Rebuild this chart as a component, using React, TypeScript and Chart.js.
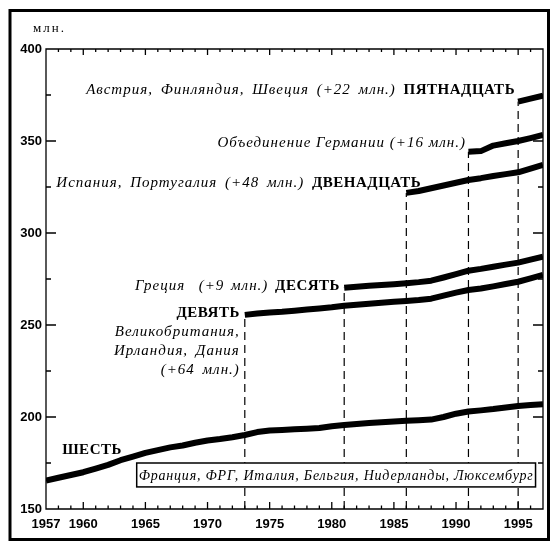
import React, { useEffect, useRef } from "react";
import { Chart, registerables } from "chart.js";

Chart.register(...registerables);

// ---- Data (millions of inhabitants) ----
const sixStart = 1957;
const sixValues = [165.5, 167, 168.5, 170, 172, 174, 176.5, 178.5, 180.5, 182, 183.5, 184.5, 186, 187.2, 188, 189, 190.2, 191.8, 192.7, 193, 193.3, 193.6, 194, 195, 195.6, 196.2, 196.7, 197.2, 197.6, 198, 198.3, 198.6, 200, 201.8, 203, 203.6, 204.3, 205.2, 206, 206.5, 207];
const nineStart = 1973;
const nineValues = [255.5, 256.2, 256.8, 257.2, 257.8, 258.4, 259, 259.6, 260.5, 261, 261.6, 262.1, 262.6, 263.1, 263.6, 264.3, 266, 267.6, 269, 269.8, 271, 272.3, 273.5, 275.3, 277.2];
const tenStart = 1981;
const tenValues = [270.3, 270.8, 271.3, 271.8, 272.2, 272.7, 273.3, 274.1, 275.8, 277.6, 279.5, 280.5, 281.7, 282.8, 283.9, 285.5, 287.1];
const twelveStart = 1986;
const twelveValues = [321.8, 322.8, 324.3, 325.8, 327.3, 328.8, 329.8, 331, 332, 333, 335, 337];
const germanyStart = 1991;
const germanyValues = [344.2, 344.5, 347.5, 348.8, 350, 351.6, 353.3];
const fifteenStart = 1995;
const fifteenValues = [371.4, 373, 374.6];

const xTickLabels = [1957, 1960, 1965, 1970, 1975, 1980, 1985, 1990, 1995];
const yTickLabels = [150, 200, 250, 300, 350, 400];
const xMin = 1957;
const xMax = 1997;
const yMin = 150;
const yMax = 400;

const unitLabel = "млн.";
const boxText = "Франция, ФРГ, Италия, Бельгия, Нидерланды, Люксембург";

type Seg = { text: string; bold?: boolean; italic?: boolean };
type Note = { segs: Seg[]; x: number; y: number; align: "left" | "right"; ws?: number };

const notes: Note[] = [
  { segs: [{ text: "Австрия, Финляндия, Швеция (+22 млн.) ", italic: true }, { text: "ПЯТНАДЦАТЬ", bold: true }], x: 1994.75, y: 377.7, align: "right" },
  { segs: [{ text: "Объединение Германии (+16 млн.)", italic: true }], x: 1990.8, y: 348.8, align: "right", ws: 0 },
  { segs: [{ text: "Испания, Португалия (+48 млн.) ", italic: true }, { text: "ДВЕНАДЦАТЬ", bold: true }], x: 1987.2, y: 327.2, align: "right" },
  { segs: [{ text: "Греция  (+9 млн.) ", italic: true }, { text: "ДЕСЯТЬ", bold: true }], x: 1980.66, y: 271.2, align: "right", ws: 2 },
  { segs: [{ text: "ДЕВЯТЬ", bold: true }], x: 1972.6, y: 256.5, align: "right" },
  { segs: [{ text: "Великобритания,", italic: true }], x: 1972.6, y: 246.4, align: "right" },
  { segs: [{ text: "Ирландия, Дания", italic: true }], x: 1972.6, y: 236, align: "right" },
  { segs: [{ text: "(+64 млн.)", italic: true }], x: 1972.6, y: 225.5, align: "right" },
  { segs: [{ text: "ШЕСТЬ", bold: true }], x: 1958.3, y: 182, align: "left" },
];

const boxLeft = 1964.3;
const boxRight = 1996.4;
const boxTop = 175;
const boxBottom = 162;

const SERIF = '"Liberation Serif", "DejaVu Serif", serif';
const SANS = '"Liberation Sans", Arial, sans-serif';

function segFont(s: Seg, size: number) {
  return `${s.italic ? "italic " : ""}${s.bold ? "bold " : ""}${size}px ${SERIF}`;
}

function applySpacing(ctx: any, s: Seg, ws: number) {
  ctx.letterSpacing = s.bold ? "0.5px" : "1px";
  ctx.wordSpacing = s.bold ? "0px" : `${ws}px`;
}

function drawNote(ctx: any, n: Note, px: number, py: number) {
  const size = 15;
  const ws = n.ws === undefined ? 3 : n.ws;
  const widths = n.segs.map((s) => {
    ctx.font = segFont(s, size);
    applySpacing(ctx, s, ws);
    return ctx.measureText(s.text).width;
  });
  const total = widths.reduce((a, b) => a + b, 0);
  let cx = n.align === "right" ? px - total : px;
  n.segs.forEach((s, i) => {
    ctx.font = segFont(s, size);
    applySpacing(ctx, s, ws);
    ctx.textAlign = "left";
    ctx.textBaseline = "middle";
    ctx.fillStyle = "#000";
    ctx.fillText(s.text, cx, py);
    cx += widths[i];
  });
  ctx.letterSpacing = "0px";
  ctx.wordSpacing = "0px";
}

const overlayPlugin = {
  id: "overlay",
  afterDatasetsDraw(chart: any) {
    const { ctx, chartArea, scales } = chart;
    const x = scales.x;
    const y = scales.y;
    ctx.save();
    // legend box of the founding six
    const bl = x.getPixelForValue(boxLeft);
    const br = x.getPixelForValue(boxRight);
    const bt = y.getPixelForValue(boxTop);
    const bb = y.getPixelForValue(boxBottom);
    ctx.fillStyle = "#fff";
    ctx.fillRect(bl, bt, br - bl, bb - bt);
    ctx.strokeStyle = "#000";
    ctx.lineWidth = 1.5;
    ctx.strokeRect(bl, bt, br - bl, bb - bt);
    ctx.font = `italic 14px ${SERIF}`;
    ctx.letterSpacing = "0.8px";
    ctx.fillStyle = "#000";
    ctx.textAlign = "center";
    ctx.textBaseline = "middle";
    ctx.fillText(boxText, (bl + br) / 2, (bt + bb) / 2 + 1);
    ctx.letterSpacing = "0px";

    notes.forEach((n) => drawNote(ctx, n, x.getPixelForValue(n.x), y.getPixelForValue(n.y)));

    // axes frame and inward ticks
    const { left, right, top, bottom } = chartArea;
    ctx.strokeStyle = "#000";
    ctx.lineWidth = 1.3;
    ctx.beginPath();
    ctx.moveTo(left, top);
    ctx.lineTo(right, top);
    ctx.lineTo(right, bottom);
    ctx.lineTo(left, bottom);
    ctx.closePath();
    ctx.stroke();
    ctx.beginPath();
    for (let yr = xMin + 1; yr < xMax; yr++) {
      const px = x.getPixelForValue(yr);
      const major = yr % 5 === 0;
      const lenB = major ? 7 : 3.5;
      const lenT = major ? 6 : 3;
      ctx.moveTo(px, bottom);
      ctx.lineTo(px, bottom - lenB);
      ctx.moveTo(px, top);
      ctx.lineTo(px, top + lenT);
    }
    for (let v = yMin + 25; v < yMax; v += 25) {
      const py = y.getPixelForValue(v);
      const major = v % 50 === 0;
      const len = major ? 10 : 5;
      ctx.moveTo(left, py);
      ctx.lineTo(left + len, py);
      ctx.moveTo(right, py);
      ctx.lineTo(right - len, py);
    }
    ctx.stroke();

    // unit label
    ctx.font = `13px ${SERIF}`;
    ctx.letterSpacing = "2px";
    ctx.textAlign = "left";
    ctx.textBaseline = "middle";
    ctx.fillText(unitLabel, 33, 29);
    ctx.letterSpacing = "0px";

    // outer frame
    ctx.lineWidth = 3;
    ctx.strokeRect(10, 10.5, 538.5, 529);
    ctx.restore();
  },
};

function series(start: number, values: number[]) {
  return {
    data: values.map((v, i) => ({ x: start + i, y: v })),
    borderColor: "#000",
    backgroundColor: "#000",
    borderWidth: 6,
    pointRadius: 0,
    tension: 0,
    fill: false,
    borderCapStyle: "butt",
    borderJoinStyle: "round",
  };
}

function joinLine(start: number, values: number[]) {
  return {
    data: [
      { x: start, y: yMin },
      { x: start, y: values[0] },
    ],
    borderColor: "#000",
    borderWidth: 1.2,
    borderDash: [8, 5],
    pointRadius: 0,
    fill: false,
  };
}

export default function App() {
  const ref = useRef<HTMLCanvasElement | null>(null);
  useEffect(() => {
    if (!ref.current) return;
    const chart = new Chart(ref.current, {
      type: "line",
      data: {
        datasets: [
          joinLine(nineStart, nineValues),
          joinLine(tenStart, tenValues),
          joinLine(twelveStart, twelveValues),
          joinLine(germanyStart, germanyValues),
          joinLine(fifteenStart, fifteenValues),
          series(sixStart, sixValues),
          series(nineStart, nineValues),
          series(tenStart, tenValues),
          series(twelveStart, twelveValues),
          series(germanyStart, germanyValues),
          series(fifteenStart, fifteenValues),
        ] as any,
      },
      options: {
        animation: false,
        responsive: false,
        layout: { padding: { left: 8, top: 49, right: 8, bottom: 0 } },
        plugins: { legend: { display: false }, tooltip: { enabled: false } },
        scales: {
          x: {
            type: "linear",
            min: xMin,
            max: xMax,
            afterBuildTicks: (s: any) => {
              s.ticks = xTickLabels.map((v) => ({ value: v }));
            },
            afterFit: (s: any) => {
              s.height = 33;
            },
            grid: { display: false, drawTicks: false },
            border: { display: false },
            ticks: {
              autoSkip: false,
              maxRotation: 0,
              padding: 8,
              color: "#000",
              font: { family: SANS, weight: "bold", size: 13 },
              callback: (v: any) => String(v),
            },
          },
          y: {
            type: "linear",
            min: yMin,
            max: yMax,
            afterBuildTicks: (s: any) => {
              s.ticks = yTickLabels.map((v) => ({ value: v }));
            },
            afterFit: (s: any) => {
              s.width = 38;
            },
            grid: { display: false, drawTicks: false },
            border: { display: false },
            ticks: {
              padding: 4,
              color: "#000",
              font: { family: SANS, weight: "bold", size: 13 },
              callback: (v: any) => String(v),
            },
          },
        },
      },
      plugins: [overlayPlugin],
    } as any);
    return () => chart.destroy();
  }, []);
  return (
    <div style={{ position: "absolute", left: 0, top: 0, width: 551, height: 542, background: "#fff" }}>
      <canvas ref={ref} width={551} height={542} style={{ width: 551, height: 542, display: "block" }} />
    </div>
  );
}
